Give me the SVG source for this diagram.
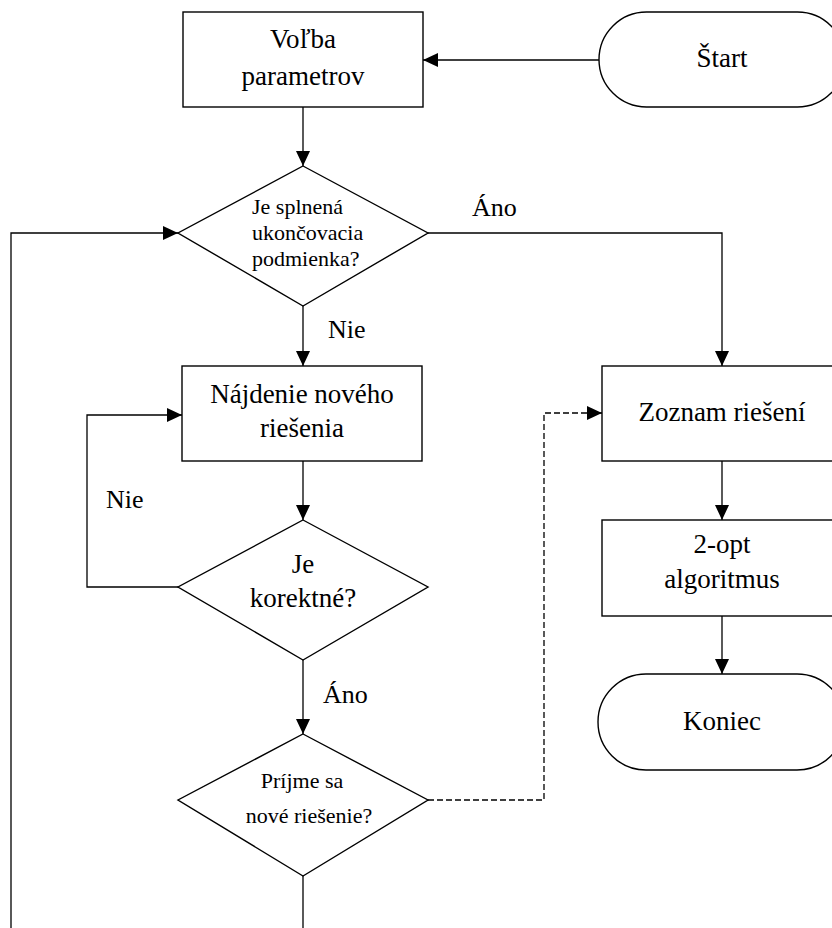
<svg xmlns="http://www.w3.org/2000/svg" width="832" height="928" viewBox="0 0 832 928" font-family="'Liberation Serif', 'Times New Roman', Tinos, 'DejaVu Serif', serif">
<style>
.shape{fill:#fff;stroke:#000;stroke-width:1.4}
.conn{fill:none;stroke:#000;stroke-width:1.3}
.dash{stroke-dasharray:6 3}
text{font-family:'Liberation Serif', 'Times New Roman', Tinos, 'DejaVu Serif', serif;fill:#000}
.t{font-size:27px;text-anchor:middle}
.s{font-size:22px}
.sc{font-size:22px;text-anchor:middle}
.lbl{font-size:26px}
</style>
<defs>
<marker id="ah" markerUnits="userSpaceOnUse" markerWidth="15" markerHeight="14" refX="15" refY="7" orient="auto">
<path d="M0,0 L15,7 L0,14 z" fill="#000"/>
</marker>
</defs>
<rect width="832" height="928" fill="#fff"/>
<g id="connectors">
<path class="conn" d="M599,60 L423,60" marker-end="url(#ah)"/>
<path class="conn" d="M303,107 L303,166" marker-end="url(#ah)"/>
<path class="conn" d="M303,306 L303,366" marker-end="url(#ah)"/>
<path class="conn" d="M428,233 L722,233 L722,366" marker-end="url(#ah)"/>
<path class="conn" d="M303,461 L303,520" marker-end="url(#ah)"/>
<path class="conn" d="M178,587 L87,587 L87,415 L182,415" marker-end="url(#ah)"/>
<path class="conn" d="M303,660 L303,734" marker-end="url(#ah)"/>
<path class="conn dash" d="M428,800 L544,800 L544,413 L602,413" marker-end="url(#ah)"/>
<path class="conn" d="M303,876 L303,932"/>
<path class="conn" d="M11,932 L11,233 L178,233" marker-end="url(#ah)"/>
<path class="conn" d="M722,461 L722,520" marker-end="url(#ah)"/>
<path class="conn" d="M722,616 L722,674" marker-end="url(#ah)"/>
<text class="lbl" x="472" y="216">Áno</text>
<text class="lbl" x="328" y="338">Nie</text>
<text class="lbl" x="106" y="508">Nie</text>
<text class="lbl" x="323" y="703">Áno</text>
</g>
<g id="volba">
<rect class="shape" x="183" y="12" width="240" height="95"/>
<text class="t" x="303" y="48">Voľba</text>
<text class="t" x="303" y="85">parametrov</text>
</g>
<g id="start">
<rect class="shape" x="599" y="12" width="246" height="95" rx="47.5" ry="47.5"/>
<text class="t" x="722" y="67">Štart</text>
</g>
<g id="podmienka">
<polygon class="shape" points="303,166 428,233 303,306 178,233"/>
<text class="s" x="252" y="214">Je splnená</text>
<text class="s" x="252" y="240">ukončovacia</text>
<text class="s" x="252" y="266">podmienka?</text>
</g>
<g id="najdenie">
<rect class="shape" x="182" y="366" width="240" height="95"/>
<text class="t" x="302" y="403">Nájdenie nového</text>
<text class="t" x="302" y="437">riešenia</text>
</g>
<g id="korektne">
<polygon class="shape" points="303,520 428,587 303,660 178,587"/>
<text class="t" x="303" y="573">Je</text>
<text class="t" x="303" y="607">korektné?</text>
</g>
<g id="prijme">
<polygon class="shape" points="303,734 428,800 303,876 178,800"/>
<text class="sc" x="302" y="788">Príjme sa</text>
<text class="sc" x="309" y="823">nové riešenie?</text>
</g>
<g id="zoznam">
<rect class="shape" x="602" y="366" width="240" height="95"/>
<text class="t" x="722" y="421">Zoznam riešení</text>
</g>
<g id="twoopt">
<rect class="shape" x="602" y="520" width="240" height="96"/>
<text class="t" x="722" y="553">2-opt</text>
<text class="t" x="722" y="588">algoritmus</text>
</g>
<g id="koniec">
<rect class="shape" x="598" y="674" width="247" height="96" rx="48" ry="48"/>
<text class="t" x="722" y="730">Koniec</text>
</g>
</svg>
